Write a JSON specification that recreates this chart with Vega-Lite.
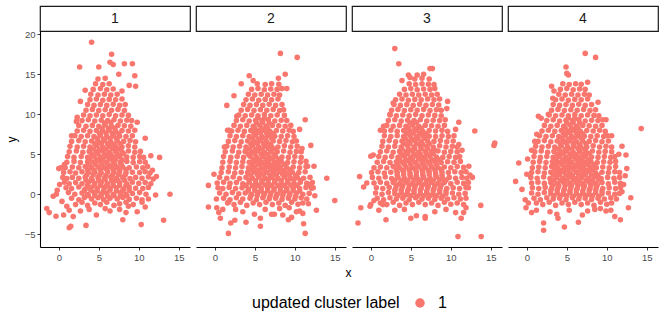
{"$schema":"https://vega.github.io/schema/vega-lite/v6.json","padding":5,"datasets":{"strips":[{"p":1},{"p":2},{"p":3},{"p":4}],"pts":[
{"p":1,"x":2.1,"y":-1.3},{"p":1,"x":2.9,"y":-1.0},{"p":1,"x":3.6,"y":-1.4},{"p":1,"x":4.5,"y":-1.1},{"p":1,"x":5.2,"y":-1.3},{"p":1,"x":6.0,"y":-1.0},{"p":1,"x":6.9,"y":-1.4},{"p":1,"x":7.6,"y":-1.2},{"p":1,"x":8.4,"y":-1.0},{"p":1,"x":9.3,"y":-1.3},
{"p":1,"x":1.6,"y":-0.5},{"p":1,"x":2.5,"y":-0.7},{"p":1,"x":3.2,"y":-0.4},{"p":1,"x":4.1,"y":-0.6},{"p":1,"x":4.9,"y":-0.45},{"p":1,"x":5.6,"y":-0.7},{"p":1,"x":6.4,"y":-0.5},{"p":1,"x":7.3,"y":-0.6},{"p":1,"x":8.0,"y":-0.4},{"p":1,"x":8.8,"y":-0.65},{"p":1,"x":9.7,"y":-0.5},{"p":1,"x":10.4,"y":-0.7},
{"p":1,"x":1.2,"y":0.2},{"p":1,"x":2.0,"y":0.0},{"p":1,"x":2.9,"y":0.15},{"p":1,"x":3.6,"y":-0.05},{"p":1,"x":4.4,"y":0.2},{"p":1,"x":5.3,"y":0.05},{"p":1,"x":6.0,"y":0.1},{"p":1,"x":6.8,"y":-0.05},{"p":1,"x":7.7,"y":0.2},{"p":1,"x":8.4,"y":0.0},{"p":1,"x":9.2,"y":0.1},{"p":1,"x":10.1,"y":0.2},{"p":1,"x":10.9,"y":0.0},
{"p":1,"x":0.9,"y":0.8},{"p":1,"x":1.6,"y":0.7},{"p":1,"x":2.5,"y":0.9},{"p":1,"x":3.3,"y":0.65},{"p":1,"x":4.0,"y":0.8},{"p":1,"x":4.8,"y":0.7},{"p":1,"x":5.7,"y":0.85},{"p":1,"x":6.4,"y":0.7},{"p":1,"x":7.2,"y":0.8},{"p":1,"x":8.1,"y":0.65},{"p":1,"x":8.8,"y":0.9},{"p":1,"x":9.6,"y":0.75},{"p":1,"x":10.5,"y":0.7},{"p":1,"x":11.2,"y":0.85},
{"p":1,"x":0.7,"y":1.5},{"p":1,"x":1.3,"y":1.3},{"p":1,"x":2.1,"y":1.45},{"p":1,"x":2.9,"y":1.3},{"p":1,"x":3.7,"y":1.5},{"p":1,"x":4.5,"y":1.35},{"p":1,"x":5.3,"y":1.45},{"p":1,"x":6.1,"y":1.3},{"p":1,"x":6.8,"y":1.5},{"p":1,"x":7.6,"y":1.4},{"p":1,"x":8.5,"y":1.3},{"p":1,"x":9.2,"y":1.5},{"p":1,"x":10.0,"y":1.35},{"p":1,"x":10.8,"y":1.45},{"p":1,"x":11.5,"y":1.3},
{"p":1,"x":0.5,"y":2.1},{"p":1,"x":1.0,"y":1.95},{"p":1,"x":1.7,"y":2.1},{"p":1,"x":2.5,"y":2.0},{"p":1,"x":3.3,"y":2.15},{"p":1,"x":4.1,"y":1.95},{"p":1,"x":4.9,"y":2.1},{"p":1,"x":5.7,"y":2.0},{"p":1,"x":6.5,"y":2.15},{"p":1,"x":7.2,"y":2.0},{"p":1,"x":8.0,"y":2.1},{"p":1,"x":8.9,"y":1.95},{"p":1,"x":9.6,"y":2.1},{"p":1,"x":10.4,"y":2.0},{"p":1,"x":11.2,"y":2.15},
{"p":1,"x":0.6,"y":2.7},{"p":1,"x":1.4,"y":2.8},{"p":1,"x":2.1,"y":2.65},{"p":1,"x":2.9,"y":2.8},{"p":1,"x":3.7,"y":2.7},{"p":1,"x":4.5,"y":2.75},{"p":1,"x":5.3,"y":2.65},{"p":1,"x":6.1,"y":2.8},{"p":1,"x":6.9,"y":2.7},{"p":1,"x":7.6,"y":2.8},{"p":1,"x":8.4,"y":2.65},{"p":1,"x":9.2,"y":2.75},{"p":1,"x":10.1,"y":2.7},{"p":1,"x":10.8,"y":2.8},{"p":1,"x":11.4,"y":2.65},
{"p":1,"x":0.8,"y":3.3},{"p":1,"x":1.7,"y":3.4},{"p":1,"x":2.5,"y":3.3},{"p":1,"x":3.3,"y":3.45},{"p":1,"x":4.1,"y":3.3},{"p":1,"x":4.9,"y":3.4},{"p":1,"x":5.7,"y":3.3},{"p":1,"x":6.5,"y":3.45},{"p":1,"x":7.3,"y":3.35},{"p":1,"x":8.0,"y":3.4},{"p":1,"x":8.8,"y":3.3},{"p":1,"x":9.7,"y":3.4},{"p":1,"x":10.5,"y":3.3},{"p":1,"x":11.1,"y":3.45},
{"p":1,"x":1.0,"y":4.0},{"p":1,"x":1.9,"y":4.1},{"p":1,"x":2.7,"y":3.95},{"p":1,"x":3.6,"y":4.05},{"p":1,"x":4.4,"y":4.0},{"p":1,"x":5.2,"y":4.1},{"p":1,"x":6.0,"y":3.95},{"p":1,"x":6.8,"y":4.05},{"p":1,"x":7.7,"y":4.0},{"p":1,"x":8.5,"y":4.1},{"p":1,"x":9.3,"y":3.95},{"p":1,"x":10.1,"y":4.05},{"p":1,"x":10.8,"y":4.0},
{"p":1,"x":1.1,"y":4.7},{"p":1,"x":1.9,"y":4.6},{"p":1,"x":2.8,"y":4.7},{"p":1,"x":3.6,"y":4.6},{"p":1,"x":4.4,"y":4.75},{"p":1,"x":5.2,"y":4.6},{"p":1,"x":6.0,"y":4.7},{"p":1,"x":6.8,"y":4.6},{"p":1,"x":7.6,"y":4.7},{"p":1,"x":8.5,"y":4.65},{"p":1,"x":9.3,"y":4.6},{"p":1,"x":10.1,"y":4.7},{"p":1,"x":10.6,"y":4.6},
{"p":1,"x":1.3,"y":5.3},{"p":1,"x":2.2,"y":5.4},{"p":1,"x":3.0,"y":5.25},{"p":1,"x":3.8,"y":5.35},{"p":1,"x":4.7,"y":5.3},{"p":1,"x":5.5,"y":5.4},{"p":1,"x":6.3,"y":5.25},{"p":1,"x":7.1,"y":5.35},{"p":1,"x":7.9,"y":5.3},{"p":1,"x":8.7,"y":5.4},{"p":1,"x":9.5,"y":5.25},{"p":1,"x":10.2,"y":5.35},
{"p":1,"x":1.4,"y":6.0},{"p":1,"x":2.3,"y":5.9},{"p":1,"x":3.1,"y":6.0},{"p":1,"x":3.9,"y":5.9},{"p":1,"x":4.7,"y":6.05},{"p":1,"x":5.5,"y":5.9},{"p":1,"x":6.3,"y":6.0},{"p":1,"x":7.1,"y":5.95},{"p":1,"x":7.9,"y":5.9},{"p":1,"x":8.7,"y":6.05},{"p":1,"x":9.5,"y":5.9},
{"p":1,"x":1.6,"y":6.6},{"p":1,"x":2.5,"y":6.7},{"p":1,"x":3.3,"y":6.55},{"p":1,"x":4.1,"y":6.65},{"p":1,"x":4.9,"y":6.6},{"p":1,"x":5.7,"y":6.7},{"p":1,"x":6.5,"y":6.55},{"p":1,"x":7.3,"y":6.65},{"p":1,"x":8.1,"y":6.6},{"p":1,"x":8.9,"y":6.7},{"p":1,"x":9.6,"y":6.55},
{"p":1,"x":2.0,"y":7.3},{"p":1,"x":2.8,"y":7.2},{"p":1,"x":3.6,"y":7.3},{"p":1,"x":4.4,"y":7.2},{"p":1,"x":5.2,"y":7.35},{"p":1,"x":6.0,"y":7.2},{"p":1,"x":6.8,"y":7.3},{"p":1,"x":7.6,"y":7.25},{"p":1,"x":8.4,"y":7.2},{"p":1,"x":9.2,"y":7.3},
{"p":1,"x":2.3,"y":7.9},{"p":1,"x":3.1,"y":8.0},{"p":1,"x":3.9,"y":7.85},{"p":1,"x":4.7,"y":7.95},{"p":1,"x":5.5,"y":7.9},{"p":1,"x":6.3,"y":8.0},{"p":1,"x":7.1,"y":7.85},{"p":1,"x":7.9,"y":7.95},{"p":1,"x":8.7,"y":7.9},{"p":1,"x":9.5,"y":8.0},
{"p":1,"x":2.5,"y":8.6},{"p":1,"x":3.4,"y":8.5},{"p":1,"x":4.2,"y":8.6},{"p":1,"x":5.0,"y":8.5},{"p":1,"x":5.8,"y":8.65},{"p":1,"x":6.6,"y":8.5},{"p":1,"x":7.4,"y":8.6},{"p":1,"x":8.2,"y":8.55},{"p":1,"x":9.0,"y":8.5},
{"p":1,"x":2.9,"y":9.2},{"p":1,"x":3.7,"y":9.3},{"p":1,"x":4.5,"y":9.15},{"p":1,"x":5.3,"y":9.25},{"p":1,"x":6.1,"y":9.2},{"p":1,"x":6.9,"y":9.3},{"p":1,"x":7.7,"y":9.15},{"p":1,"x":8.5,"y":9.25},{"p":1,"x":9.1,"y":9.2},
{"p":1,"x":3.1,"y":9.9},{"p":1,"x":3.9,"y":9.8},{"p":1,"x":4.7,"y":9.9},{"p":1,"x":5.5,"y":9.8},{"p":1,"x":6.3,"y":9.95},{"p":1,"x":7.1,"y":9.8},{"p":1,"x":7.9,"y":9.9},{"p":1,"x":8.7,"y":9.85},
{"p":1,"x":3.4,"y":10.5},{"p":1,"x":4.2,"y":10.6},{"p":1,"x":5.0,"y":10.45},{"p":1,"x":5.8,"y":10.55},{"p":1,"x":6.6,"y":10.5},{"p":1,"x":7.4,"y":10.6},{"p":1,"x":8.2,"y":10.45},
{"p":1,"x":3.6,"y":11.2},{"p":1,"x":4.4,"y":11.1},{"p":1,"x":5.2,"y":11.2},{"p":1,"x":6.0,"y":11.1},{"p":1,"x":6.8,"y":11.25},{"p":1,"x":7.6,"y":11.1},{"p":1,"x":8.3,"y":11.2},
{"p":1,"x":3.9,"y":11.8},{"p":1,"x":4.7,"y":11.9},{"p":1,"x":5.5,"y":11.75},{"p":1,"x":6.3,"y":11.85},{"p":1,"x":7.1,"y":11.8},{"p":1,"x":7.9,"y":11.9},
{"p":1,"x":4.0,"y":12.5},{"p":1,"x":4.9,"y":12.4},{"p":1,"x":5.7,"y":12.5},{"p":1,"x":6.5,"y":12.4},{"p":1,"x":7.3,"y":12.5},
{"p":1,"x":4.3,"y":13.1},{"p":1,"x":5.2,"y":13.2},{"p":1,"x":6.0,"y":13.05},{"p":1,"x":6.8,"y":13.15},
{"p":1,"x":4.6,"y":13.8},{"p":1,"x":5.5,"y":13.7},{"p":1,"x":6.3,"y":13.8},
{"p":1,"x":4.9,"y":14.4},{"p":1,"x":5.8,"y":14.5},
{"p":1,"x":3.7,"y":-0.2},{"p":1,"x":4.5,"y":-0.15},{"p":1,"x":5.3,"y":-0.2},{"p":1,"x":6.1,"y":-0.25},{"p":1,"x":6.9,"y":-0.2},{"p":1,"x":7.7,"y":-0.15},{"p":1,"x":8.5,"y":-0.2},
{"p":1,"x":3.2,"y":0.45},{"p":1,"x":4.0,"y":0.5},{"p":1,"x":4.8,"y":0.4},{"p":1,"x":5.6,"y":0.45},{"p":1,"x":6.4,"y":0.5},{"p":1,"x":7.2,"y":0.4},{"p":1,"x":8.0,"y":0.45},{"p":1,"x":8.8,"y":0.5},
{"p":1,"x":3.6,"y":1.1},{"p":1,"x":4.4,"y":1.05},{"p":1,"x":5.2,"y":1.1},{"p":1,"x":6.0,"y":1.15},{"p":1,"x":6.8,"y":1.1},{"p":1,"x":7.6,"y":1.05},{"p":1,"x":8.4,"y":1.1},
{"p":1,"x":3.4,"y":1.75},{"p":1,"x":4.2,"y":1.7},{"p":1,"x":5.0,"y":1.75},{"p":1,"x":5.8,"y":1.8},{"p":1,"x":6.6,"y":1.75},{"p":1,"x":7.4,"y":1.7},{"p":1,"x":8.2,"y":1.75},
{"p":1,"x":3.5,"y":2.4},{"p":1,"x":4.3,"y":2.45},{"p":1,"x":5.1,"y":2.4},{"p":1,"x":5.9,"y":2.35},{"p":1,"x":6.7,"y":2.4},{"p":1,"x":7.5,"y":2.45},{"p":1,"x":8.3,"y":2.4},
{"p":1,"x":3.6,"y":3.05},{"p":1,"x":4.4,"y":3.0},{"p":1,"x":5.2,"y":3.05},{"p":1,"x":6.0,"y":3.1},{"p":1,"x":6.8,"y":3.05},{"p":1,"x":7.6,"y":3.0},{"p":1,"x":8.4,"y":3.05},
{"p":1,"x":3.8,"y":3.7},{"p":1,"x":4.6,"y":3.75},{"p":1,"x":5.4,"y":3.7},{"p":1,"x":6.2,"y":3.65},{"p":1,"x":7.0,"y":3.7},{"p":1,"x":7.8,"y":3.75},
{"p":1,"x":3.9,"y":4.35},{"p":1,"x":4.7,"y":4.3},{"p":1,"x":5.5,"y":4.35},{"p":1,"x":6.3,"y":4.4},{"p":1,"x":7.1,"y":4.35},{"p":1,"x":7.9,"y":4.3},
{"p":1,"x":4.1,"y":5.0},{"p":1,"x":4.9,"y":5.05},{"p":1,"x":5.7,"y":5.0},{"p":1,"x":6.5,"y":4.95},{"p":1,"x":7.3,"y":5.0},{"p":1,"x":8.1,"y":5.05},
{"p":1,"x":4.3,"y":5.65},{"p":1,"x":5.1,"y":5.6},{"p":1,"x":5.9,"y":5.65},{"p":1,"x":6.7,"y":5.7},{"p":1,"x":7.5,"y":5.65},
{"p":1,"x":4.5,"y":6.3},{"p":1,"x":5.3,"y":6.35},{"p":1,"x":6.1,"y":6.3},{"p":1,"x":6.9,"y":6.25},{"p":1,"x":7.7,"y":6.3},
{"p":1,"x":4.8,"y":6.95},{"p":1,"x":5.6,"y":6.9},{"p":1,"x":6.4,"y":6.95},{"p":1,"x":7.2,"y":7.0},
{"p":1,"x":5.1,"y":7.6},{"p":1,"x":5.9,"y":7.65},{"p":1,"x":6.7,"y":7.6},{"p":1,"x":7.5,"y":7.55},
{"p":1,"x":5.4,"y":8.25},{"p":1,"x":6.2,"y":8.2},{"p":1,"x":7.0,"y":8.25},
{"p":1,"x":5.7,"y":8.9},{"p":1,"x":6.5,"y":8.95},
{"p":1,"x":4.1,"y":19.0},{"p":1,"x":6.6,"y":17.5},{"p":1,"x":6.4,"y":16.5},{"p":1,"x":6.8,"y":16.2},{"p":1,"x":8.2,"y":16.3},{"p":1,"x":9.2,"y":16.3},{"p":1,"x":2.6,"y":15.9},{"p":1,"x":5.0,"y":15.9},{"p":1,"x":9.5,"y":14.8},{"p":1,"x":7.5,"y":15.0},{"p":1,"x":8.8,"y":13.6},{"p":1,"x":9.6,"y":13.5},{"p":1,"x":7.9,"y":12.9},{"p":1,"x":3.3,"y":13.0},{"p":1,"x":2.7,"y":11.6},{"p":1,"x":2.3,"y":9.6},{"p":1,"x":2.2,"y":9.1},{"p":1,"x":9.8,"y":9.0},{"p":1,"x":10.8,"y":7.0},{"p":1,"x":12.6,"y":4.6},{"p":1,"x":11.5,"y":4.8},{"p":1,"x":13.9,"y":0.0},{"p":1,"x":13.1,"y":-3.25},{"p":1,"x":10.3,"y":-3.8},{"p":1,"x":8.0,"y":-3.2},{"p":1,"x":3.4,"y":-3.9},{"p":1,"x":1.3,"y":-4.2},{"p":1,"x":1.5,"y":-4.0},{"p":1,"x":4.7,"y":-2.6},{"p":1,"x":6.4,"y":-2.1},{"p":1,"x":-0.35,"y":-2.75},{"p":1,"x":-1.5,"y":-1.8},{"p":1,"x":-1.2,"y":-2.3},{"p":1,"x":0.6,"y":-2.6},{"p":1,"x":1.8,"y":-2.8},{"p":1,"x":-0.7,"y":-0.25},{"p":1,"x":-0.2,"y":0.5},{"p":1,"x":0.1,"y":1.2},{"p":1,"x":0.25,"y":3.3},{"p":1,"x":0.7,"y":3.7},{"p":1,"x":0.0,"y":3.2},{"p":1,"x":1.6,"y":7.3},{"p":1,"x":12.1,"y":-0.1},{"p":1,"x":11.8,"y":1.9},{"p":1,"x":11.7,"y":3.0},{"p":1,"x":12.2,"y":2.2},{"p":1,"x":8.4,"y":-2.3},{"p":1,"x":8.7,"y":-1.5},{"p":1,"x":7.6,"y":-1.9},{"p":1,"x":1.0,"y":-1.5},{"p":1,"x":1.3,"y":-2.0},{"p":1,"x":0.4,"y":-0.9},{"p":1,"x":-0.3,"y":0.0},{"p":1,"x":10.8,"y":-1.6},{"p":1,"x":9.8,"y":-2.2},{"p":1,"x":10.4,"y":-1.0},{"p":1,"x":11.2,"y":-0.6},{"p":1,"x":5.8,"y":-1.8},{"p":1,"x":3.8,"y":-1.9},{"p":1,"x":2.7,"y":-2.1},
{"p":2,"x":1.6,"y":-1.1},{"p":2,"x":2.4,"y":-1.3},{"p":2,"x":3.2,"y":-1.0},{"p":2,"x":4.0,"y":-1.4},{"p":2,"x":4.8,"y":-1.1},{"p":2,"x":5.6,"y":-1.3},{"p":2,"x":6.4,"y":-1.0},{"p":2,"x":7.2,"y":-1.3},{"p":2,"x":8.0,"y":-1.1},{"p":2,"x":8.8,"y":-1.4},{"p":2,"x":9.6,"y":-1.0},{"p":2,"x":10.4,"y":-1.25},{"p":2,"x":11.0,"y":-1.1},
{"p":2,"x":1.1,"y":-0.5},{"p":2,"x":1.9,"y":-0.7},{"p":2,"x":2.7,"y":-0.45},{"p":2,"x":3.5,"y":-0.6},{"p":2,"x":4.4,"y":-0.5},{"p":2,"x":5.2,"y":-0.7},{"p":2,"x":6.0,"y":-0.45},{"p":2,"x":6.8,"y":-0.6},{"p":2,"x":7.6,"y":-0.5},{"p":2,"x":8.4,"y":-0.65},{"p":2,"x":9.2,"y":-0.5},{"p":2,"x":10.0,"y":-0.6},{"p":2,"x":10.8,"y":-0.45},{"p":2,"x":11.5,"y":-0.6},
{"p":2,"x":0.6,"y":0.15},{"p":2,"x":1.4,"y":0.0},{"p":2,"x":2.2,"y":0.2},{"p":2,"x":3.0,"y":0.05},{"p":2,"x":3.8,"y":0.15},{"p":2,"x":4.6,"y":0.0},{"p":2,"x":5.4,"y":0.2},{"p":2,"x":6.2,"y":0.05},{"p":2,"x":7.0,"y":0.1},{"p":2,"x":7.8,"y":0.0},{"p":2,"x":8.6,"y":0.2},{"p":2,"x":9.4,"y":0.05},{"p":2,"x":10.2,"y":0.15},{"p":2,"x":11.0,"y":0.0},{"p":2,"x":11.8,"y":0.1},
{"p":2,"x":0.4,"y":0.8},{"p":2,"x":1.0,"y":0.7},{"p":2,"x":1.8,"y":0.85},{"p":2,"x":2.6,"y":0.7},{"p":2,"x":3.4,"y":0.8},{"p":2,"x":4.2,"y":0.65},{"p":2,"x":5.0,"y":0.85},{"p":2,"x":5.8,"y":0.7},{"p":2,"x":6.6,"y":0.8},{"p":2,"x":7.4,"y":0.7},{"p":2,"x":8.2,"y":0.85},{"p":2,"x":9.0,"y":0.7},{"p":2,"x":9.8,"y":0.8},{"p":2,"x":10.6,"y":0.7},{"p":2,"x":11.4,"y":0.85},{"p":2,"x":12.1,"y":0.75},
{"p":2,"x":0.3,"y":1.4},{"p":2,"x":1.1,"y":1.5},{"p":2,"x":1.9,"y":1.35},{"p":2,"x":2.7,"y":1.45},{"p":2,"x":3.5,"y":1.3},{"p":2,"x":4.3,"y":1.5},{"p":2,"x":5.1,"y":1.35},{"p":2,"x":5.9,"y":1.45},{"p":2,"x":6.7,"y":1.3},{"p":2,"x":7.5,"y":1.5},{"p":2,"x":8.3,"y":1.35},{"p":2,"x":9.1,"y":1.45},{"p":2,"x":9.9,"y":1.3},{"p":2,"x":10.7,"y":1.5},{"p":2,"x":11.5,"y":1.35},{"p":2,"x":12.2,"y":1.45},
{"p":2,"x":0.6,"y":2.1},{"p":2,"x":1.5,"y":2.0},{"p":2,"x":2.3,"y":2.15},{"p":2,"x":3.1,"y":1.95},{"p":2,"x":3.9,"y":2.1},{"p":2,"x":4.7,"y":2.0},{"p":2,"x":5.5,"y":2.15},{"p":2,"x":6.3,"y":1.95},{"p":2,"x":7.1,"y":2.1},{"p":2,"x":7.9,"y":2.0},{"p":2,"x":8.7,"y":2.15},{"p":2,"x":9.5,"y":1.95},{"p":2,"x":10.3,"y":2.1},{"p":2,"x":11.1,"y":2.0},{"p":2,"x":11.9,"y":2.1},
{"p":2,"x":0.8,"y":2.7},{"p":2,"x":1.7,"y":2.8},{"p":2,"x":2.5,"y":2.65},{"p":2,"x":3.3,"y":2.75},{"p":2,"x":4.1,"y":2.7},{"p":2,"x":4.9,"y":2.8},{"p":2,"x":5.7,"y":2.65},{"p":2,"x":6.5,"y":2.75},{"p":2,"x":7.3,"y":2.7},{"p":2,"x":8.1,"y":2.8},{"p":2,"x":8.9,"y":2.65},{"p":2,"x":9.7,"y":2.75},{"p":2,"x":10.5,"y":2.7},{"p":2,"x":11.3,"y":2.8},
{"p":2,"x":0.9,"y":3.3},{"p":2,"x":1.8,"y":3.4},{"p":2,"x":2.6,"y":3.3},{"p":2,"x":3.4,"y":3.45},{"p":2,"x":4.2,"y":3.3},{"p":2,"x":5.0,"y":3.4},{"p":2,"x":5.8,"y":3.3},{"p":2,"x":6.6,"y":3.45},{"p":2,"x":7.4,"y":3.35},{"p":2,"x":8.2,"y":3.4},{"p":2,"x":9.0,"y":3.3},{"p":2,"x":9.8,"y":3.4},{"p":2,"x":10.6,"y":3.3},{"p":2,"x":11.4,"y":3.45},
{"p":2,"x":1.0,"y":4.0},{"p":2,"x":1.9,"y":4.1},{"p":2,"x":2.7,"y":3.95},{"p":2,"x":3.5,"y":4.05},{"p":2,"x":4.3,"y":4.0},{"p":2,"x":5.1,"y":4.1},{"p":2,"x":5.9,"y":3.95},{"p":2,"x":6.7,"y":4.05},{"p":2,"x":7.5,"y":4.0},{"p":2,"x":8.3,"y":4.1},{"p":2,"x":9.1,"y":3.95},{"p":2,"x":9.9,"y":4.05},{"p":2,"x":10.7,"y":4.0},{"p":2,"x":11.4,"y":4.1},
{"p":2,"x":1.1,"y":4.7},{"p":2,"x":2.0,"y":4.6},{"p":2,"x":2.8,"y":4.7},{"p":2,"x":3.6,"y":4.6},{"p":2,"x":4.4,"y":4.75},{"p":2,"x":5.2,"y":4.6},{"p":2,"x":6.0,"y":4.7},{"p":2,"x":6.8,"y":4.6},{"p":2,"x":7.6,"y":4.7},{"p":2,"x":8.4,"y":4.65},{"p":2,"x":9.2,"y":4.6},{"p":2,"x":10.0,"y":4.7},{"p":2,"x":10.8,"y":4.6},
{"p":2,"x":1.3,"y":5.3},{"p":2,"x":2.2,"y":5.4},{"p":2,"x":3.0,"y":5.25},{"p":2,"x":3.8,"y":5.35},{"p":2,"x":4.6,"y":5.3},{"p":2,"x":5.4,"y":5.4},{"p":2,"x":6.2,"y":5.25},{"p":2,"x":7.0,"y":5.35},{"p":2,"x":7.8,"y":5.3},{"p":2,"x":8.6,"y":5.4},{"p":2,"x":9.4,"y":5.25},{"p":2,"x":10.2,"y":5.35},{"p":2,"x":10.8,"y":5.3},
{"p":2,"x":1.5,"y":6.0},{"p":2,"x":2.3,"y":5.9},{"p":2,"x":3.1,"y":6.0},{"p":2,"x":3.9,"y":5.9},{"p":2,"x":4.7,"y":6.05},{"p":2,"x":5.5,"y":5.9},{"p":2,"x":6.3,"y":6.0},{"p":2,"x":7.1,"y":5.95},{"p":2,"x":7.9,"y":5.9},{"p":2,"x":8.7,"y":6.05},{"p":2,"x":9.5,"y":5.9},{"p":2,"x":10.3,"y":6.0},
{"p":2,"x":1.7,"y":6.6},{"p":2,"x":2.5,"y":6.7},{"p":2,"x":3.3,"y":6.55},{"p":2,"x":4.1,"y":6.65},{"p":2,"x":4.9,"y":6.6},{"p":2,"x":5.7,"y":6.7},{"p":2,"x":6.5,"y":6.55},{"p":2,"x":7.3,"y":6.65},{"p":2,"x":8.1,"y":6.6},{"p":2,"x":8.9,"y":6.7},{"p":2,"x":9.7,"y":6.55},{"p":2,"x":10.2,"y":6.65},
{"p":2,"x":1.9,"y":7.3},{"p":2,"x":2.7,"y":7.2},{"p":2,"x":3.5,"y":7.3},{"p":2,"x":4.3,"y":7.2},{"p":2,"x":5.1,"y":7.35},{"p":2,"x":5.9,"y":7.2},{"p":2,"x":6.7,"y":7.3},{"p":2,"x":7.5,"y":7.25},{"p":2,"x":8.3,"y":7.2},{"p":2,"x":9.1,"y":7.3},{"p":2,"x":9.9,"y":7.2},
{"p":2,"x":2.1,"y":7.9},{"p":2,"x":2.9,"y":8.0},{"p":2,"x":3.7,"y":7.85},{"p":2,"x":4.5,"y":7.95},{"p":2,"x":5.3,"y":7.9},{"p":2,"x":6.1,"y":8.0},{"p":2,"x":6.9,"y":7.85},{"p":2,"x":7.7,"y":7.95},{"p":2,"x":8.5,"y":7.9},{"p":2,"x":9.3,"y":8.0},{"p":2,"x":9.8,"y":7.85},
{"p":2,"x":2.4,"y":8.6},{"p":2,"x":3.2,"y":8.5},{"p":2,"x":4.0,"y":8.6},{"p":2,"x":4.8,"y":8.5},{"p":2,"x":5.6,"y":8.65},{"p":2,"x":6.4,"y":8.5},{"p":2,"x":7.2,"y":8.6},{"p":2,"x":8.0,"y":8.55},{"p":2,"x":8.8,"y":8.5},{"p":2,"x":9.5,"y":8.6},
{"p":2,"x":2.7,"y":9.2},{"p":2,"x":3.5,"y":9.3},{"p":2,"x":4.3,"y":9.15},{"p":2,"x":5.1,"y":9.25},{"p":2,"x":5.9,"y":9.2},{"p":2,"x":6.7,"y":9.3},{"p":2,"x":7.5,"y":9.15},{"p":2,"x":8.3,"y":9.25},{"p":2,"x":9.0,"y":9.2},
{"p":2,"x":3.0,"y":9.9},{"p":2,"x":3.8,"y":9.8},{"p":2,"x":4.6,"y":9.9},{"p":2,"x":5.4,"y":9.8},{"p":2,"x":6.2,"y":9.95},{"p":2,"x":7.0,"y":9.8},{"p":2,"x":7.8,"y":9.9},{"p":2,"x":8.7,"y":9.85},
{"p":2,"x":3.3,"y":10.5},{"p":2,"x":4.1,"y":10.6},{"p":2,"x":4.9,"y":10.45},{"p":2,"x":5.7,"y":10.55},{"p":2,"x":6.5,"y":10.5},{"p":2,"x":7.3,"y":10.6},{"p":2,"x":8.1,"y":10.45},{"p":2,"x":8.6,"y":10.55},
{"p":2,"x":3.6,"y":11.2},{"p":2,"x":4.4,"y":11.1},{"p":2,"x":5.2,"y":11.2},{"p":2,"x":6.0,"y":11.1},{"p":2,"x":6.8,"y":11.25},{"p":2,"x":7.6,"y":11.1},{"p":2,"x":8.4,"y":11.2},
{"p":2,"x":3.9,"y":11.8},{"p":2,"x":4.7,"y":11.9},{"p":2,"x":5.5,"y":11.75},{"p":2,"x":6.3,"y":11.85},{"p":2,"x":7.1,"y":11.8},{"p":2,"x":7.9,"y":11.9},
{"p":2,"x":4.2,"y":12.5},{"p":2,"x":5.0,"y":12.4},{"p":2,"x":5.8,"y":12.5},{"p":2,"x":6.6,"y":12.4},{"p":2,"x":7.4,"y":12.5},{"p":2,"x":8.1,"y":12.4},
{"p":2,"x":4.6,"y":13.1},{"p":2,"x":5.4,"y":13.2},{"p":2,"x":6.2,"y":13.05},{"p":2,"x":7.0,"y":13.15},{"p":2,"x":7.8,"y":13.1},{"p":2,"x":8.4,"y":13.2},
{"p":2,"x":5.3,"y":13.8},{"p":2,"x":6.3,"y":13.7},{"p":2,"x":7.1,"y":13.8},{"p":2,"x":8.0,"y":13.75},
{"p":2,"x":4.5,"y":-0.2},{"p":2,"x":5.3,"y":-0.15},{"p":2,"x":6.1,"y":-0.2},{"p":2,"x":6.9,"y":-0.25},{"p":2,"x":7.7,"y":-0.2},{"p":2,"x":8.5,"y":-0.15},{"p":2,"x":9.3,"y":-0.2},{"p":2,"x":10.1,"y":-0.25},
{"p":2,"x":4.2,"y":0.45},{"p":2,"x":5.0,"y":0.5},{"p":2,"x":5.8,"y":0.4},{"p":2,"x":6.6,"y":0.45},{"p":2,"x":7.4,"y":0.5},{"p":2,"x":8.2,"y":0.4},{"p":2,"x":9.0,"y":0.45},{"p":2,"x":9.8,"y":0.5},{"p":2,"x":10.6,"y":0.4},
{"p":2,"x":3.9,"y":1.1},{"p":2,"x":4.7,"y":1.05},{"p":2,"x":5.5,"y":1.1},{"p":2,"x":6.3,"y":1.15},{"p":2,"x":7.1,"y":1.1},{"p":2,"x":7.9,"y":1.05},{"p":2,"x":8.7,"y":1.1},{"p":2,"x":9.5,"y":1.15},{"p":2,"x":10.3,"y":1.1},
{"p":2,"x":4.3,"y":1.75},{"p":2,"x":5.1,"y":1.7},{"p":2,"x":5.9,"y":1.75},{"p":2,"x":6.7,"y":1.8},{"p":2,"x":7.5,"y":1.75},{"p":2,"x":8.3,"y":1.7},{"p":2,"x":9.1,"y":1.75},{"p":2,"x":9.9,"y":1.8},{"p":2,"x":10.7,"y":1.75},
{"p":2,"x":4.5,"y":2.4},{"p":2,"x":5.3,"y":2.45},{"p":2,"x":6.1,"y":2.4},{"p":2,"x":6.9,"y":2.35},{"p":2,"x":7.7,"y":2.4},{"p":2,"x":8.5,"y":2.45},{"p":2,"x":9.3,"y":2.4},{"p":2,"x":10.1,"y":2.35},
{"p":2,"x":4.6,"y":3.05},{"p":2,"x":5.4,"y":3.0},{"p":2,"x":6.2,"y":3.05},{"p":2,"x":7.0,"y":3.1},{"p":2,"x":7.8,"y":3.05},{"p":2,"x":8.6,"y":3.0},{"p":2,"x":9.4,"y":3.05},
{"p":2,"x":4.7,"y":3.7},{"p":2,"x":5.5,"y":3.75},{"p":2,"x":6.3,"y":3.7},{"p":2,"x":7.1,"y":3.65},{"p":2,"x":7.9,"y":3.7},{"p":2,"x":8.7,"y":3.75},
{"p":2,"x":4.8,"y":4.35},{"p":2,"x":5.6,"y":4.3},{"p":2,"x":6.4,"y":4.35},{"p":2,"x":7.2,"y":4.4},{"p":2,"x":8.0,"y":4.35},
{"p":2,"x":4.2,"y":5.0},{"p":2,"x":5.0,"y":5.05},{"p":2,"x":5.8,"y":5.0},{"p":2,"x":6.6,"y":4.95},{"p":2,"x":7.4,"y":5.0},
{"p":2,"x":4.3,"y":5.65},{"p":2,"x":5.1,"y":5.6},{"p":2,"x":5.9,"y":5.65},{"p":2,"x":6.7,"y":5.7},{"p":2,"x":7.5,"y":5.65},
{"p":2,"x":4.5,"y":6.3},{"p":2,"x":5.3,"y":6.35},{"p":2,"x":6.1,"y":6.3},{"p":2,"x":6.9,"y":6.25},
{"p":2,"x":4.7,"y":6.95},{"p":2,"x":5.5,"y":6.9},{"p":2,"x":6.3,"y":6.95},{"p":2,"x":7.1,"y":7.0},
{"p":2,"x":4.9,"y":7.6},{"p":2,"x":5.7,"y":7.65},{"p":2,"x":6.5,"y":7.6},{"p":2,"x":7.3,"y":7.55},
{"p":2,"x":5.0,"y":8.25},{"p":2,"x":5.8,"y":8.2},{"p":2,"x":6.6,"y":8.25},
{"p":2,"x":5.2,"y":8.9},{"p":2,"x":6.0,"y":8.95},{"p":2,"x":6.8,"y":8.9},
{"p":2,"x":5.4,"y":9.55},{"p":2,"x":6.2,"y":9.5},
{"p":2,"x":8.2,"y":17.6},{"p":2,"x":10.3,"y":17.1},{"p":2,"x":4.3,"y":14.8},{"p":2,"x":4.8,"y":14.2},{"p":2,"x":3.3,"y":13.8},{"p":2,"x":8.8,"y":15.0},{"p":2,"x":7.95,"y":14.5},{"p":2,"x":9.0,"y":13.2},{"p":2,"x":2.4,"y":12.3},{"p":2,"x":1.5,"y":11.1},{"p":2,"x":10.6,"y":8.1},{"p":2,"x":12.0,"y":6.1},{"p":2,"x":12.4,"y":3.5},{"p":2,"x":14.0,"y":2.0},{"p":2,"x":15.0,"y":-0.8},{"p":2,"x":12.7,"y":-2.0},{"p":2,"x":11.3,"y":-4.9},{"p":2,"x":11.1,"y":-3.7},{"p":2,"x":1.7,"y":-4.9},{"p":2,"x":2.0,"y":-3.6},{"p":2,"x":2.5,"y":-3.25},{"p":2,"x":3.9,"y":-3.5},{"p":2,"x":5.7,"y":-4.0},{"p":2,"x":5.7,"y":-3.0},{"p":2,"x":4.95,"y":-2.5},{"p":2,"x":7.1,"y":-2.5},{"p":2,"x":7.45,"y":-2.5},{"p":2,"x":-0.8,"y":1.1},{"p":2,"x":-0.8,"y":-1.6},{"p":2,"x":-0.1,"y":2.5},{"p":2,"x":0.25,"y":-1.7},{"p":2,"x":0.5,"y":-2.3},{"p":2,"x":0.7,"y":-3.0},{"p":2,"x":1.7,"y":-1.0},{"p":2,"x":8.5,"y":-2.6},{"p":2,"x":9.2,"y":-3.2},{"p":2,"x":9.6,"y":-2.9},{"p":2,"x":10.2,"y":-2.2},{"p":2,"x":10.6,"y":-2.1},{"p":2,"x":11.0,"y":-2.4},{"p":2,"x":1.2,"y":5.9},{"p":2,"x":1.6,"y":8.0},{"p":2,"x":1.8,"y":8.0},{"p":2,"x":2.75,"y":9.75},{"p":2,"x":11.6,"y":3.5},{"p":2,"x":11.9,"y":1.2},{"p":2,"x":12.3,"y":0.8},{"p":2,"x":0.2,"y":-0.6},{"p":2,"x":1.0,"y":-1.9},{"p":2,"x":2.6,"y":-1.9},{"p":2,"x":3.5,"y":-2.2},{"p":2,"x":6.3,"y":-1.9},{"p":2,"x":8.1,"y":-1.8},{"p":2,"x":9.3,"y":-1.7},{"p":2,"x":11.7,"y":-1.2},{"p":2,"x":12.5,"y":-0.2},{"p":2,"x":11.3,"y":9.3},{"p":2,"x":10.9,"y":5.7},
{"p":3,"x":1.2,"y":-1.1},{"p":3,"x":2.0,"y":-1.3},{"p":3,"x":2.8,"y":-1.0},{"p":3,"x":3.6,"y":-1.4},{"p":3,"x":4.4,"y":-1.1},{"p":3,"x":5.2,"y":-1.3},{"p":3,"x":6.0,"y":-1.0},{"p":3,"x":6.8,"y":-1.3},{"p":3,"x":7.6,"y":-1.1},{"p":3,"x":8.4,"y":-1.4},{"p":3,"x":9.2,"y":-1.0},{"p":3,"x":10.0,"y":-1.25},{"p":3,"x":10.8,"y":-1.1},{"p":3,"x":11.6,"y":-1.3},
{"p":3,"x":0.8,"y":-0.5},{"p":3,"x":1.6,"y":-0.7},{"p":3,"x":2.4,"y":-0.45},{"p":3,"x":3.2,"y":-0.6},{"p":3,"x":4.0,"y":-0.5},{"p":3,"x":4.8,"y":-0.7},{"p":3,"x":5.6,"y":-0.45},{"p":3,"x":6.4,"y":-0.6},{"p":3,"x":7.2,"y":-0.5},{"p":3,"x":8.0,"y":-0.65},{"p":3,"x":8.8,"y":-0.5},{"p":3,"x":9.6,"y":-0.6},{"p":3,"x":10.4,"y":-0.45},{"p":3,"x":11.2,"y":-0.6},{"p":3,"x":11.9,"y":-0.5},
{"p":3,"x":0.6,"y":0.15},{"p":3,"x":1.4,"y":0.0},{"p":3,"x":2.2,"y":0.2},{"p":3,"x":3.0,"y":0.05},{"p":3,"x":3.8,"y":0.15},{"p":3,"x":4.6,"y":0.0},{"p":3,"x":5.4,"y":0.2},{"p":3,"x":6.2,"y":0.05},{"p":3,"x":7.0,"y":0.1},{"p":3,"x":7.8,"y":0.0},{"p":3,"x":8.6,"y":0.2},{"p":3,"x":9.4,"y":0.05},{"p":3,"x":10.2,"y":0.15},{"p":3,"x":11.0,"y":0.0},{"p":3,"x":11.8,"y":0.1},
{"p":3,"x":0.7,"y":0.8},{"p":3,"x":1.5,"y":0.7},{"p":3,"x":2.3,"y":0.85},{"p":3,"x":3.1,"y":0.7},{"p":3,"x":3.9,"y":0.8},{"p":3,"x":4.7,"y":0.65},{"p":3,"x":5.5,"y":0.85},{"p":3,"x":6.3,"y":0.7},{"p":3,"x":7.1,"y":0.8},{"p":3,"x":7.9,"y":0.7},{"p":3,"x":8.7,"y":0.85},{"p":3,"x":9.5,"y":0.7},{"p":3,"x":10.3,"y":0.8},{"p":3,"x":11.1,"y":0.7},{"p":3,"x":11.9,"y":0.85},
{"p":3,"x":0.4,"y":1.4},{"p":3,"x":1.2,"y":1.5},{"p":3,"x":2.0,"y":1.35},{"p":3,"x":2.8,"y":1.45},{"p":3,"x":3.6,"y":1.3},{"p":3,"x":4.4,"y":1.5},{"p":3,"x":5.2,"y":1.35},{"p":3,"x":6.0,"y":1.45},{"p":3,"x":6.8,"y":1.3},{"p":3,"x":7.6,"y":1.5},{"p":3,"x":8.4,"y":1.35},{"p":3,"x":9.2,"y":1.45},{"p":3,"x":10.0,"y":1.3},{"p":3,"x":10.8,"y":1.5},{"p":3,"x":11.6,"y":1.35},{"p":3,"x":12.2,"y":1.45},
{"p":3,"x":0.2,"y":2.1},{"p":3,"x":1.0,"y":2.0},{"p":3,"x":1.8,"y":2.15},{"p":3,"x":2.6,"y":1.95},{"p":3,"x":3.4,"y":2.1},{"p":3,"x":4.2,"y":2.0},{"p":3,"x":5.0,"y":2.15},{"p":3,"x":5.8,"y":1.95},{"p":3,"x":6.6,"y":2.1},{"p":3,"x":7.4,"y":2.0},{"p":3,"x":8.2,"y":2.15},{"p":3,"x":9.0,"y":1.95},{"p":3,"x":9.8,"y":2.1},{"p":3,"x":10.6,"y":2.0},{"p":3,"x":11.4,"y":2.1},{"p":3,"x":12.0,"y":2.0},
{"p":3,"x":0.1,"y":2.7},{"p":3,"x":0.9,"y":2.8},{"p":3,"x":1.7,"y":2.65},{"p":3,"x":2.5,"y":2.75},{"p":3,"x":3.3,"y":2.7},{"p":3,"x":4.1,"y":2.8},{"p":3,"x":4.9,"y":2.65},{"p":3,"x":5.7,"y":2.75},{"p":3,"x":6.5,"y":2.7},{"p":3,"x":7.3,"y":2.8},{"p":3,"x":8.1,"y":2.65},{"p":3,"x":8.9,"y":2.75},{"p":3,"x":9.7,"y":2.7},{"p":3,"x":10.5,"y":2.8},{"p":3,"x":11.3,"y":2.7},{"p":3,"x":11.9,"y":2.8},
{"p":3,"x":0.4,"y":3.3},{"p":3,"x":1.2,"y":3.4},{"p":3,"x":2.0,"y":3.3},{"p":3,"x":2.8,"y":3.45},{"p":3,"x":3.6,"y":3.3},{"p":3,"x":4.4,"y":3.4},{"p":3,"x":5.2,"y":3.3},{"p":3,"x":6.0,"y":3.45},{"p":3,"x":6.8,"y":3.35},{"p":3,"x":7.6,"y":3.4},{"p":3,"x":8.4,"y":3.3},{"p":3,"x":9.2,"y":3.4},{"p":3,"x":10.0,"y":3.3},{"p":3,"x":10.8,"y":3.45},{"p":3,"x":11.6,"y":3.35},
{"p":3,"x":0.8,"y":4.0},{"p":3,"x":1.6,"y":4.1},{"p":3,"x":2.4,"y":3.95},{"p":3,"x":3.2,"y":4.05},{"p":3,"x":4.0,"y":4.0},{"p":3,"x":4.8,"y":4.1},{"p":3,"x":5.6,"y":3.95},{"p":3,"x":6.4,"y":4.05},{"p":3,"x":7.2,"y":4.0},{"p":3,"x":8.0,"y":4.1},{"p":3,"x":8.8,"y":3.95},{"p":3,"x":9.6,"y":4.05},{"p":3,"x":10.4,"y":4.0},{"p":3,"x":11.2,"y":4.1},
{"p":3,"x":1.0,"y":4.7},{"p":3,"x":1.8,"y":4.6},{"p":3,"x":2.6,"y":4.7},{"p":3,"x":3.4,"y":4.6},{"p":3,"x":4.2,"y":4.75},{"p":3,"x":5.0,"y":4.6},{"p":3,"x":5.8,"y":4.7},{"p":3,"x":6.6,"y":4.6},{"p":3,"x":7.4,"y":4.7},{"p":3,"x":8.2,"y":4.65},{"p":3,"x":9.0,"y":4.6},{"p":3,"x":9.8,"y":4.7},{"p":3,"x":10.6,"y":4.6},{"p":3,"x":11.1,"y":4.7},
{"p":3,"x":1.2,"y":5.3},{"p":3,"x":2.0,"y":5.4},{"p":3,"x":2.8,"y":5.25},{"p":3,"x":3.6,"y":5.35},{"p":3,"x":4.4,"y":5.3},{"p":3,"x":5.2,"y":5.4},{"p":3,"x":6.0,"y":5.25},{"p":3,"x":6.8,"y":5.35},{"p":3,"x":7.6,"y":5.3},{"p":3,"x":8.4,"y":5.4},{"p":3,"x":9.2,"y":5.25},{"p":3,"x":10.0,"y":5.35},{"p":3,"x":10.8,"y":5.3},
{"p":3,"x":1.4,"y":6.0},{"p":3,"x":2.2,"y":5.9},{"p":3,"x":3.0,"y":6.0},{"p":3,"x":3.8,"y":5.9},{"p":3,"x":4.6,"y":6.05},{"p":3,"x":5.4,"y":5.9},{"p":3,"x":6.2,"y":6.0},{"p":3,"x":7.0,"y":5.95},{"p":3,"x":7.8,"y":5.9},{"p":3,"x":8.6,"y":6.05},{"p":3,"x":9.4,"y":5.9},{"p":3,"x":10.2,"y":6.0},{"p":3,"x":10.8,"y":5.9},
{"p":3,"x":1.5,"y":6.6},{"p":3,"x":2.3,"y":6.7},{"p":3,"x":3.1,"y":6.55},{"p":3,"x":3.9,"y":6.65},{"p":3,"x":4.7,"y":6.6},{"p":3,"x":5.5,"y":6.7},{"p":3,"x":6.3,"y":6.55},{"p":3,"x":7.1,"y":6.65},{"p":3,"x":7.9,"y":6.6},{"p":3,"x":8.7,"y":6.7},{"p":3,"x":9.5,"y":6.55},{"p":3,"x":10.3,"y":6.65},
{"p":3,"x":1.7,"y":7.3},{"p":3,"x":2.5,"y":7.2},{"p":3,"x":3.3,"y":7.3},{"p":3,"x":4.1,"y":7.2},{"p":3,"x":4.9,"y":7.35},{"p":3,"x":5.7,"y":7.2},{"p":3,"x":6.5,"y":7.3},{"p":3,"x":7.3,"y":7.25},{"p":3,"x":8.1,"y":7.2},{"p":3,"x":8.9,"y":7.3},{"p":3,"x":9.7,"y":7.2},{"p":3,"x":10.4,"y":7.3},
{"p":3,"x":1.7,"y":7.9},{"p":3,"x":2.5,"y":8.0},{"p":3,"x":3.3,"y":7.85},{"p":3,"x":4.1,"y":7.95},{"p":3,"x":4.9,"y":7.9},{"p":3,"x":5.7,"y":8.0},{"p":3,"x":6.5,"y":7.85},{"p":3,"x":7.3,"y":7.95},{"p":3,"x":8.1,"y":7.9},{"p":3,"x":8.9,"y":8.0},{"p":3,"x":9.6,"y":7.85},
{"p":3,"x":2.0,"y":8.6},{"p":3,"x":2.8,"y":8.5},{"p":3,"x":3.6,"y":8.6},{"p":3,"x":4.4,"y":8.5},{"p":3,"x":5.2,"y":8.65},{"p":3,"x":6.0,"y":8.5},{"p":3,"x":6.8,"y":8.6},{"p":3,"x":7.6,"y":8.55},{"p":3,"x":8.4,"y":8.5},{"p":3,"x":9.2,"y":8.6},
{"p":3,"x":2.2,"y":9.2},{"p":3,"x":3.0,"y":9.3},{"p":3,"x":3.8,"y":9.15},{"p":3,"x":4.6,"y":9.25},{"p":3,"x":5.4,"y":9.2},{"p":3,"x":6.2,"y":9.3},{"p":3,"x":7.0,"y":9.15},{"p":3,"x":7.8,"y":9.25},{"p":3,"x":8.6,"y":9.2},{"p":3,"x":9.3,"y":9.3},
{"p":3,"x":2.4,"y":9.9},{"p":3,"x":3.2,"y":9.8},{"p":3,"x":4.0,"y":9.9},{"p":3,"x":4.8,"y":9.8},{"p":3,"x":5.6,"y":9.95},{"p":3,"x":6.4,"y":9.8},{"p":3,"x":7.2,"y":9.9},{"p":3,"x":8.0,"y":9.85},{"p":3,"x":8.8,"y":9.8},
{"p":3,"x":2.6,"y":10.5},{"p":3,"x":3.4,"y":10.6},{"p":3,"x":4.2,"y":10.45},{"p":3,"x":5.0,"y":10.55},{"p":3,"x":5.8,"y":10.5},{"p":3,"x":6.6,"y":10.6},{"p":3,"x":7.4,"y":10.45},{"p":3,"x":8.2,"y":10.55},{"p":3,"x":8.8,"y":10.5},
{"p":3,"x":2.9,"y":11.2},{"p":3,"x":3.7,"y":11.1},{"p":3,"x":4.5,"y":11.2},{"p":3,"x":5.3,"y":11.1},{"p":3,"x":6.1,"y":11.25},{"p":3,"x":6.9,"y":11.1},{"p":3,"x":7.7,"y":11.2},{"p":3,"x":8.5,"y":11.15},
{"p":3,"x":3.1,"y":11.8},{"p":3,"x":3.9,"y":11.9},{"p":3,"x":4.7,"y":11.75},{"p":3,"x":5.5,"y":11.85},{"p":3,"x":6.3,"y":11.8},{"p":3,"x":7.1,"y":11.9},{"p":3,"x":7.9,"y":11.8},{"p":3,"x":8.6,"y":11.9},
{"p":3,"x":3.6,"y":12.5},{"p":3,"x":4.4,"y":12.4},{"p":3,"x":5.2,"y":12.5},{"p":3,"x":6.0,"y":12.4},{"p":3,"x":6.8,"y":12.5},{"p":3,"x":7.6,"y":12.4},{"p":3,"x":8.3,"y":12.5},
{"p":3,"x":4.2,"y":13.1},{"p":3,"x":5.0,"y":13.2},{"p":3,"x":5.8,"y":13.05},{"p":3,"x":6.6,"y":13.15},{"p":3,"x":7.4,"y":13.1},{"p":3,"x":8.0,"y":13.2},
{"p":3,"x":4.8,"y":13.8},{"p":3,"x":5.6,"y":13.7},{"p":3,"x":6.4,"y":13.8},{"p":3,"x":7.2,"y":13.75},{"p":3,"x":7.9,"y":13.7},
{"p":3,"x":5.5,"y":14.4},{"p":3,"x":6.4,"y":14.5},{"p":3,"x":7.3,"y":14.4},
{"p":3,"x":3.4,"y":-0.2},{"p":3,"x":4.2,"y":-0.15},{"p":3,"x":5.0,"y":-0.2},{"p":3,"x":5.8,"y":-0.25},{"p":3,"x":6.6,"y":-0.2},{"p":3,"x":7.4,"y":-0.15},{"p":3,"x":8.2,"y":-0.2},{"p":3,"x":9.0,"y":-0.25},
{"p":3,"x":3.0,"y":0.45},{"p":3,"x":3.8,"y":0.5},{"p":3,"x":4.6,"y":0.4},{"p":3,"x":5.4,"y":0.45},{"p":3,"x":6.2,"y":0.5},{"p":3,"x":7.0,"y":0.4},{"p":3,"x":7.8,"y":0.45},{"p":3,"x":8.6,"y":0.5},{"p":3,"x":9.4,"y":0.4},
{"p":3,"x":3.2,"y":1.1},{"p":3,"x":4.0,"y":1.05},{"p":3,"x":4.8,"y":1.1},{"p":3,"x":5.6,"y":1.15},{"p":3,"x":6.4,"y":1.1},{"p":3,"x":7.2,"y":1.05},{"p":3,"x":8.0,"y":1.1},{"p":3,"x":8.8,"y":1.15},
{"p":3,"x":3.0,"y":1.75},{"p":3,"x":3.8,"y":1.7},{"p":3,"x":4.6,"y":1.75},{"p":3,"x":5.4,"y":1.8},{"p":3,"x":6.2,"y":1.75},{"p":3,"x":7.0,"y":1.7},{"p":3,"x":7.8,"y":1.75},{"p":3,"x":8.6,"y":1.8},{"p":3,"x":9.4,"y":1.75},
{"p":3,"x":3.3,"y":2.4},{"p":3,"x":4.1,"y":2.45},{"p":3,"x":4.9,"y":2.4},{"p":3,"x":5.7,"y":2.35},{"p":3,"x":6.5,"y":2.4},{"p":3,"x":7.3,"y":2.45},{"p":3,"x":8.1,"y":2.4},{"p":3,"x":8.9,"y":2.35},
{"p":3,"x":3.2,"y":3.05},{"p":3,"x":4.0,"y":3.0},{"p":3,"x":4.8,"y":3.05},{"p":3,"x":5.6,"y":3.1},{"p":3,"x":6.4,"y":3.05},{"p":3,"x":7.2,"y":3.0},{"p":3,"x":8.0,"y":3.05},{"p":3,"x":8.8,"y":3.1},
{"p":3,"x":3.4,"y":3.7},{"p":3,"x":4.2,"y":3.75},{"p":3,"x":5.0,"y":3.7},{"p":3,"x":5.8,"y":3.65},{"p":3,"x":6.6,"y":3.7},{"p":3,"x":7.4,"y":3.75},{"p":3,"x":8.2,"y":3.7},
{"p":3,"x":3.6,"y":4.35},{"p":3,"x":4.4,"y":4.3},{"p":3,"x":5.2,"y":4.35},{"p":3,"x":6.0,"y":4.4},{"p":3,"x":6.8,"y":4.35},{"p":3,"x":7.6,"y":4.3},{"p":3,"x":8.4,"y":4.35},
{"p":3,"x":3.8,"y":5.0},{"p":3,"x":4.6,"y":5.05},{"p":3,"x":5.4,"y":5.0},{"p":3,"x":6.2,"y":4.95},{"p":3,"x":7.0,"y":5.0},{"p":3,"x":7.8,"y":5.05},
{"p":3,"x":3.9,"y":5.65},{"p":3,"x":4.7,"y":5.6},{"p":3,"x":5.5,"y":5.65},{"p":3,"x":6.3,"y":5.7},{"p":3,"x":7.1,"y":5.65},{"p":3,"x":7.9,"y":5.6},
{"p":3,"x":4.1,"y":6.3},{"p":3,"x":4.9,"y":6.35},{"p":3,"x":5.7,"y":6.3},{"p":3,"x":6.5,"y":6.25},{"p":3,"x":7.3,"y":6.3},
{"p":3,"x":4.3,"y":6.95},{"p":3,"x":5.1,"y":6.9},{"p":3,"x":5.9,"y":6.95},{"p":3,"x":6.7,"y":7.0},
{"p":3,"x":4.5,"y":7.6},{"p":3,"x":5.3,"y":7.65},{"p":3,"x":6.1,"y":7.6},{"p":3,"x":6.9,"y":7.55},
{"p":3,"x":4.7,"y":8.25},{"p":3,"x":5.5,"y":8.2},{"p":3,"x":6.3,"y":8.25},
{"p":3,"x":4.9,"y":8.9},{"p":3,"x":5.7,"y":8.95},
{"p":3,"x":3.0,"y":18.2},{"p":3,"x":3.5,"y":16.3},{"p":3,"x":7.4,"y":15.7},{"p":3,"x":7.7,"y":15.7},{"p":3,"x":4.7,"y":14.9},{"p":3,"x":4.9,"y":14.6},{"p":3,"x":5.8,"y":14.9},{"p":3,"x":6.6,"y":15.0},{"p":3,"x":3.9,"y":14.2},{"p":3,"x":9.6,"y":11.6},{"p":3,"x":13.0,"y":7.9},{"p":3,"x":15.5,"y":6.4},{"p":3,"x":15.4,"y":6.1},{"p":3,"x":11.0,"y":9.0},{"p":3,"x":9.5,"y":10.7},{"p":3,"x":12.25,"y":3.5},{"p":3,"x":13.75,"y":-1.4},{"p":3,"x":13.8,"y":-5.3},{"p":3,"x":10.9,"y":-5.3},{"p":3,"x":11.3,"y":-3.0},{"p":3,"x":6.8,"y":-3.0},{"p":3,"x":6.8,"y":-2.8},{"p":3,"x":5.7,"y":-2.7},{"p":3,"x":5.0,"y":-3.0},{"p":3,"x":1.9,"y":-3.2},{"p":3,"x":-1.6,"y":-3.6},{"p":3,"x":-1.25,"y":-1.7},{"p":3,"x":-0.1,"y":-1.5},{"p":3,"x":0.0,"y":-1.3},{"p":3,"x":-1.4,"y":2.2},{"p":3,"x":-0.9,"y":0.9},{"p":3,"x":-0.5,"y":1.4},{"p":3,"x":0.0,"y":4.75},{"p":3,"x":0.3,"y":4.9},{"p":3,"x":1.5,"y":-1.3},{"p":3,"x":1.2,"y":8.0},{"p":3,"x":1.6,"y":8.5},{"p":3,"x":2.4,"y":10.0},{"p":3,"x":2.8,"y":11.4},{"p":3,"x":11.9,"y":-1.7},{"p":3,"x":11.6,"y":-2.3},{"p":3,"x":12.2,"y":0.8},{"p":3,"x":12.4,"y":2.4},{"p":3,"x":11.0,"y":6.2},{"p":3,"x":11.4,"y":5.5},{"p":3,"x":10.6,"y":8.1},{"p":3,"x":4.2,"y":-1.9},{"p":3,"x":3.0,"y":-2.0},{"p":3,"x":8.0,"y":-2.2},{"p":3,"x":9.4,"y":-1.9},{"p":3,"x":10.6,"y":-2.3},{"p":3,"x":0.4,"y":-0.8},{"p":3,"x":1.0,"y":-2.0},{"p":3,"x":12.7,"y":2.1},
{"p":4,"x":1.2,"y":-1.1},{"p":4,"x":2.0,"y":-1.3},{"p":4,"x":2.8,"y":-1.0},{"p":4,"x":3.6,"y":-1.4},{"p":4,"x":4.4,"y":-1.1},{"p":4,"x":5.2,"y":-1.3},{"p":4,"x":6.0,"y":-1.0},{"p":4,"x":6.8,"y":-1.3},{"p":4,"x":7.6,"y":-1.1},{"p":4,"x":8.4,"y":-1.4},{"p":4,"x":9.2,"y":-1.0},{"p":4,"x":10.0,"y":-1.25},{"p":4,"x":10.6,"y":-1.1},
{"p":4,"x":0.9,"y":-0.5},{"p":4,"x":1.7,"y":-0.7},{"p":4,"x":2.5,"y":-0.45},{"p":4,"x":3.3,"y":-0.6},{"p":4,"x":4.1,"y":-0.5},{"p":4,"x":4.9,"y":-0.7},{"p":4,"x":5.7,"y":-0.45},{"p":4,"x":6.5,"y":-0.6},{"p":4,"x":7.3,"y":-0.5},{"p":4,"x":8.1,"y":-0.65},{"p":4,"x":8.9,"y":-0.5},{"p":4,"x":9.7,"y":-0.6},{"p":4,"x":10.5,"y":-0.45},{"p":4,"x":11.2,"y":-0.6},
{"p":4,"x":0.6,"y":0.15},{"p":4,"x":1.4,"y":0.0},{"p":4,"x":2.2,"y":0.2},{"p":4,"x":3.0,"y":0.05},{"p":4,"x":3.8,"y":0.15},{"p":4,"x":4.6,"y":0.0},{"p":4,"x":5.4,"y":0.2},{"p":4,"x":6.2,"y":0.05},{"p":4,"x":7.0,"y":0.1},{"p":4,"x":7.8,"y":0.0},{"p":4,"x":8.6,"y":0.2},{"p":4,"x":9.4,"y":0.05},{"p":4,"x":10.2,"y":0.15},{"p":4,"x":11.0,"y":0.0},{"p":4,"x":11.6,"y":0.1},
{"p":4,"x":0.7,"y":0.8},{"p":4,"x":1.5,"y":0.7},{"p":4,"x":2.3,"y":0.85},{"p":4,"x":3.1,"y":0.7},{"p":4,"x":3.9,"y":0.8},{"p":4,"x":4.7,"y":0.65},{"p":4,"x":5.5,"y":0.85},{"p":4,"x":6.3,"y":0.7},{"p":4,"x":7.1,"y":0.8},{"p":4,"x":7.9,"y":0.7},{"p":4,"x":8.7,"y":0.85},{"p":4,"x":9.5,"y":0.7},{"p":4,"x":10.3,"y":0.8},{"p":4,"x":11.1,"y":0.7},{"p":4,"x":11.7,"y":0.85},
{"p":4,"x":0.6,"y":1.4},{"p":4,"x":1.4,"y":1.5},{"p":4,"x":2.2,"y":1.35},{"p":4,"x":3.0,"y":1.45},{"p":4,"x":3.8,"y":1.3},{"p":4,"x":4.6,"y":1.5},{"p":4,"x":5.4,"y":1.35},{"p":4,"x":6.2,"y":1.45},{"p":4,"x":7.0,"y":1.3},{"p":4,"x":7.8,"y":1.5},{"p":4,"x":8.6,"y":1.35},{"p":4,"x":9.4,"y":1.45},{"p":4,"x":10.2,"y":1.3},{"p":4,"x":11.0,"y":1.5},{"p":4,"x":11.7,"y":1.35},
{"p":4,"x":0.5,"y":2.1},{"p":4,"x":1.3,"y":2.0},{"p":4,"x":2.1,"y":2.15},{"p":4,"x":2.9,"y":1.95},{"p":4,"x":3.7,"y":2.1},{"p":4,"x":4.5,"y":2.0},{"p":4,"x":5.3,"y":2.15},{"p":4,"x":6.1,"y":1.95},{"p":4,"x":6.9,"y":2.1},{"p":4,"x":7.7,"y":2.0},{"p":4,"x":8.5,"y":2.15},{"p":4,"x":9.3,"y":1.95},{"p":4,"x":10.1,"y":2.1},{"p":4,"x":10.9,"y":2.0},{"p":4,"x":11.6,"y":2.1},
{"p":4,"x":0.6,"y":2.7},{"p":4,"x":1.4,"y":2.8},{"p":4,"x":2.2,"y":2.65},{"p":4,"x":3.0,"y":2.75},{"p":4,"x":3.8,"y":2.7},{"p":4,"x":4.6,"y":2.8},{"p":4,"x":5.4,"y":2.65},{"p":4,"x":6.2,"y":2.75},{"p":4,"x":7.0,"y":2.7},{"p":4,"x":7.8,"y":2.8},{"p":4,"x":8.6,"y":2.65},{"p":4,"x":9.4,"y":2.75},{"p":4,"x":10.2,"y":2.7},{"p":4,"x":11.0,"y":2.8},{"p":4,"x":11.6,"y":2.7},
{"p":4,"x":0.7,"y":3.3},{"p":4,"x":1.5,"y":3.4},{"p":4,"x":2.3,"y":3.3},{"p":4,"x":3.1,"y":3.45},{"p":4,"x":3.9,"y":3.3},{"p":4,"x":4.7,"y":3.4},{"p":4,"x":5.5,"y":3.3},{"p":4,"x":6.3,"y":3.45},{"p":4,"x":7.1,"y":3.35},{"p":4,"x":7.9,"y":3.4},{"p":4,"x":8.7,"y":3.3},{"p":4,"x":9.5,"y":3.4},{"p":4,"x":10.3,"y":3.3},{"p":4,"x":11.1,"y":3.45},
{"p":4,"x":0.8,"y":4.0},{"p":4,"x":1.6,"y":4.1},{"p":4,"x":2.4,"y":3.95},{"p":4,"x":3.2,"y":4.05},{"p":4,"x":4.0,"y":4.0},{"p":4,"x":4.8,"y":4.1},{"p":4,"x":5.6,"y":3.95},{"p":4,"x":6.4,"y":4.05},{"p":4,"x":7.2,"y":4.0},{"p":4,"x":8.0,"y":4.1},{"p":4,"x":8.8,"y":3.95},{"p":4,"x":9.6,"y":4.05},{"p":4,"x":10.4,"y":4.0},{"p":4,"x":11.1,"y":4.1},
{"p":4,"x":0.9,"y":4.7},{"p":4,"x":1.7,"y":4.6},{"p":4,"x":2.5,"y":4.7},{"p":4,"x":3.3,"y":4.6},{"p":4,"x":4.1,"y":4.75},{"p":4,"x":4.9,"y":4.6},{"p":4,"x":5.7,"y":4.7},{"p":4,"x":6.5,"y":4.6},{"p":4,"x":7.3,"y":4.7},{"p":4,"x":8.1,"y":4.65},{"p":4,"x":8.9,"y":4.6},{"p":4,"x":9.7,"y":4.7},{"p":4,"x":10.5,"y":4.6},{"p":4,"x":11.0,"y":4.7},
{"p":4,"x":1.0,"y":5.3},{"p":4,"x":1.8,"y":5.4},{"p":4,"x":2.6,"y":5.25},{"p":4,"x":3.4,"y":5.35},{"p":4,"x":4.2,"y":5.3},{"p":4,"x":5.0,"y":5.4},{"p":4,"x":5.8,"y":5.25},{"p":4,"x":6.6,"y":5.35},{"p":4,"x":7.4,"y":5.3},{"p":4,"x":8.2,"y":5.4},{"p":4,"x":9.0,"y":5.25},{"p":4,"x":9.8,"y":5.35},{"p":4,"x":10.6,"y":5.3},
{"p":4,"x":1.1,"y":6.0},{"p":4,"x":1.9,"y":5.9},{"p":4,"x":2.7,"y":6.0},{"p":4,"x":3.5,"y":5.9},{"p":4,"x":4.3,"y":6.05},{"p":4,"x":5.1,"y":5.9},{"p":4,"x":5.9,"y":6.0},{"p":4,"x":6.7,"y":5.95},{"p":4,"x":7.5,"y":5.9},{"p":4,"x":8.3,"y":6.05},{"p":4,"x":9.1,"y":5.9},{"p":4,"x":9.9,"y":6.0},{"p":4,"x":10.6,"y":5.9},
{"p":4,"x":1.4,"y":6.6},{"p":4,"x":2.2,"y":6.7},{"p":4,"x":3.0,"y":6.55},{"p":4,"x":3.8,"y":6.65},{"p":4,"x":4.6,"y":6.6},{"p":4,"x":5.4,"y":6.7},{"p":4,"x":6.2,"y":6.55},{"p":4,"x":7.0,"y":6.65},{"p":4,"x":7.8,"y":6.6},{"p":4,"x":8.6,"y":6.7},{"p":4,"x":9.4,"y":6.55},{"p":4,"x":10.2,"y":6.65},
{"p":4,"x":1.6,"y":7.3},{"p":4,"x":2.4,"y":7.2},{"p":4,"x":3.2,"y":7.3},{"p":4,"x":4.0,"y":7.2},{"p":4,"x":4.8,"y":7.35},{"p":4,"x":5.6,"y":7.2},{"p":4,"x":6.4,"y":7.3},{"p":4,"x":7.2,"y":7.25},{"p":4,"x":8.0,"y":7.2},{"p":4,"x":8.8,"y":7.3},{"p":4,"x":9.6,"y":7.2},{"p":4,"x":10.1,"y":7.3},
{"p":4,"x":1.9,"y":7.9},{"p":4,"x":2.7,"y":8.0},{"p":4,"x":3.5,"y":7.85},{"p":4,"x":4.3,"y":7.95},{"p":4,"x":5.1,"y":7.9},{"p":4,"x":5.9,"y":8.0},{"p":4,"x":6.7,"y":7.85},{"p":4,"x":7.5,"y":7.95},{"p":4,"x":8.3,"y":7.9},{"p":4,"x":9.1,"y":8.0},{"p":4,"x":9.8,"y":7.85},
{"p":4,"x":2.2,"y":8.6},{"p":4,"x":3.0,"y":8.5},{"p":4,"x":3.8,"y":8.6},{"p":4,"x":4.6,"y":8.5},{"p":4,"x":5.4,"y":8.65},{"p":4,"x":6.2,"y":8.5},{"p":4,"x":7.0,"y":8.6},{"p":4,"x":7.8,"y":8.55},{"p":4,"x":8.6,"y":8.5},{"p":4,"x":9.4,"y":8.6},
{"p":4,"x":2.5,"y":9.2},{"p":4,"x":3.3,"y":9.3},{"p":4,"x":4.1,"y":9.15},{"p":4,"x":4.9,"y":9.25},{"p":4,"x":5.7,"y":9.2},{"p":4,"x":6.5,"y":9.3},{"p":4,"x":7.3,"y":9.15},{"p":4,"x":8.1,"y":9.25},{"p":4,"x":8.9,"y":9.2},{"p":4,"x":9.5,"y":9.3},
{"p":4,"x":2.8,"y":9.9},{"p":4,"x":3.6,"y":9.8},{"p":4,"x":4.4,"y":9.9},{"p":4,"x":5.2,"y":9.8},{"p":4,"x":6.0,"y":9.95},{"p":4,"x":6.8,"y":9.8},{"p":4,"x":7.6,"y":9.9},{"p":4,"x":8.4,"y":9.85},{"p":4,"x":9.0,"y":9.8},
{"p":4,"x":3.1,"y":10.5},{"p":4,"x":3.9,"y":10.6},{"p":4,"x":4.7,"y":10.45},{"p":4,"x":5.5,"y":10.55},{"p":4,"x":6.3,"y":10.5},{"p":4,"x":7.1,"y":10.6},{"p":4,"x":7.9,"y":10.45},{"p":4,"x":8.6,"y":10.55},
{"p":4,"x":3.3,"y":11.2},{"p":4,"x":4.1,"y":11.1},{"p":4,"x":4.9,"y":11.2},{"p":4,"x":5.7,"y":11.1},{"p":4,"x":6.5,"y":11.25},{"p":4,"x":7.3,"y":11.1},{"p":4,"x":8.1,"y":11.2},
{"p":4,"x":3.6,"y":11.8},{"p":4,"x":4.4,"y":11.9},{"p":4,"x":5.2,"y":11.75},{"p":4,"x":6.0,"y":11.85},{"p":4,"x":6.8,"y":11.8},{"p":4,"x":7.6,"y":11.9},
{"p":4,"x":4.0,"y":12.5},{"p":4,"x":4.8,"y":12.4},{"p":4,"x":5.6,"y":12.5},{"p":4,"x":6.4,"y":12.4},{"p":4,"x":7.2,"y":12.5},{"p":4,"x":7.8,"y":12.4},
{"p":4,"x":4.2,"y":13.1},{"p":4,"x":5.0,"y":13.2},{"p":4,"x":5.8,"y":13.05},{"p":4,"x":6.6,"y":13.15},{"p":4,"x":7.3,"y":13.1},
{"p":4,"x":4.5,"y":13.8},{"p":4,"x":5.3,"y":13.7},{"p":4,"x":6.1,"y":13.8},{"p":4,"x":6.8,"y":13.75},
{"p":4,"x":3.4,"y":-0.2},{"p":4,"x":4.2,"y":-0.15},{"p":4,"x":5.0,"y":-0.2},{"p":4,"x":5.8,"y":-0.25},{"p":4,"x":6.6,"y":-0.2},{"p":4,"x":7.4,"y":-0.15},{"p":4,"x":8.2,"y":-0.2},{"p":4,"x":9.0,"y":-0.25},
{"p":4,"x":3.0,"y":0.45},{"p":4,"x":3.8,"y":0.5},{"p":4,"x":4.6,"y":0.4},{"p":4,"x":5.4,"y":0.45},{"p":4,"x":6.2,"y":0.5},{"p":4,"x":7.0,"y":0.4},{"p":4,"x":7.8,"y":0.45},{"p":4,"x":8.6,"y":0.5},{"p":4,"x":9.4,"y":0.4},
{"p":4,"x":3.2,"y":1.1},{"p":4,"x":4.0,"y":1.05},{"p":4,"x":4.8,"y":1.1},{"p":4,"x":5.6,"y":1.15},{"p":4,"x":6.4,"y":1.1},{"p":4,"x":7.2,"y":1.05},{"p":4,"x":8.0,"y":1.1},{"p":4,"x":8.8,"y":1.15},
{"p":4,"x":3.4,"y":1.75},{"p":4,"x":4.2,"y":1.7},{"p":4,"x":5.0,"y":1.75},{"p":4,"x":5.8,"y":1.8},{"p":4,"x":6.6,"y":1.75},{"p":4,"x":7.4,"y":1.7},{"p":4,"x":8.2,"y":1.75},{"p":4,"x":9.0,"y":1.8},
{"p":4,"x":3.3,"y":2.4},{"p":4,"x":4.1,"y":2.45},{"p":4,"x":4.9,"y":2.4},{"p":4,"x":5.7,"y":2.35},{"p":4,"x":6.5,"y":2.4},{"p":4,"x":7.3,"y":2.45},{"p":4,"x":8.1,"y":2.4},{"p":4,"x":8.9,"y":2.35},
{"p":4,"x":3.5,"y":3.05},{"p":4,"x":4.3,"y":3.0},{"p":4,"x":5.1,"y":3.05},{"p":4,"x":5.9,"y":3.1},{"p":4,"x":6.7,"y":3.05},{"p":4,"x":7.5,"y":3.0},{"p":4,"x":8.3,"y":3.05},
{"p":4,"x":3.6,"y":3.7},{"p":4,"x":4.4,"y":3.75},{"p":4,"x":5.2,"y":3.7},{"p":4,"x":6.0,"y":3.65},{"p":4,"x":6.8,"y":3.7},{"p":4,"x":7.6,"y":3.75},{"p":4,"x":8.4,"y":3.7},
{"p":4,"x":3.7,"y":4.35},{"p":4,"x":4.5,"y":4.3},{"p":4,"x":5.3,"y":4.35},{"p":4,"x":6.1,"y":4.4},{"p":4,"x":6.9,"y":4.35},{"p":4,"x":7.7,"y":4.3},
{"p":4,"x":3.8,"y":5.0},{"p":4,"x":4.6,"y":5.05},{"p":4,"x":5.4,"y":5.0},{"p":4,"x":6.2,"y":4.95},{"p":4,"x":7.0,"y":5.0},{"p":4,"x":7.8,"y":5.05},
{"p":4,"x":4.0,"y":5.65},{"p":4,"x":4.8,"y":5.6},{"p":4,"x":5.6,"y":5.65},{"p":4,"x":6.4,"y":5.7},{"p":4,"x":7.2,"y":5.65},
{"p":4,"x":4.2,"y":6.3},{"p":4,"x":5.0,"y":6.35},{"p":4,"x":5.8,"y":6.3},{"p":4,"x":6.6,"y":6.25},{"p":4,"x":7.4,"y":6.3},
{"p":4,"x":4.4,"y":6.95},{"p":4,"x":5.2,"y":6.9},{"p":4,"x":6.0,"y":6.95},{"p":4,"x":6.8,"y":7.0},
{"p":4,"x":4.6,"y":7.6},{"p":4,"x":5.4,"y":7.65},{"p":4,"x":6.2,"y":7.6},{"p":4,"x":7.0,"y":7.55},
{"p":4,"x":4.8,"y":8.25},{"p":4,"x":5.6,"y":8.2},{"p":4,"x":6.4,"y":8.25},
{"p":4,"x":5.0,"y":8.9},{"p":4,"x":5.8,"y":8.95},{"p":4,"x":6.6,"y":8.9},
{"p":4,"x":5.2,"y":9.55},{"p":4,"x":6.0,"y":9.5},
{"p":4,"x":7.3,"y":17.6},{"p":4,"x":8.6,"y":17.1},{"p":4,"x":4.9,"y":15.9},{"p":4,"x":5.0,"y":15.1},{"p":4,"x":5.2,"y":14.9},{"p":4,"x":3.1,"y":13.5},{"p":4,"x":3.4,"y":12.9},{"p":4,"x":3.25,"y":12.0},{"p":4,"x":7.6,"y":14.0},{"p":4,"x":8.9,"y":11.5},{"p":4,"x":14.3,"y":8.2},{"p":4,"x":9.9,"y":9.3},{"p":4,"x":11.9,"y":6.0},{"p":4,"x":12.4,"y":4.9},{"p":4,"x":12.5,"y":3.2},{"p":4,"x":-1.0,"y":3.9},{"p":4,"x":-1.4,"y":1.6},{"p":4,"x":-0.6,"y":0.6},{"p":4,"x":-0.2,"y":-0.7},{"p":4,"x":0.2,"y":-1.1},{"p":4,"x":-0.1,"y":-1.7},{"p":4,"x":0.6,"y":-2.3},{"p":4,"x":2.1,"y":-3.6},{"p":4,"x":2.1,"y":-4.5},{"p":4,"x":4.7,"y":-4.1},{"p":4,"x":3.75,"y":-2.5},{"p":4,"x":3.9,"y":-3.0},{"p":4,"x":6.45,"y":-3.5},{"p":4,"x":6.95,"y":-2.6},{"p":4,"x":8.5,"y":-1.9},{"p":4,"x":9.9,"y":-2.1},{"p":4,"x":10.5,"y":-2.0},{"p":4,"x":11.0,"y":-2.8},{"p":4,"x":11.7,"y":-3.2},{"p":4,"x":12.7,"y":-1.7},{"p":4,"x":13.0,"y":-0.45},{"p":4,"x":12.1,"y":1.2},{"p":4,"x":11.9,"y":0.3},{"p":4,"x":1.45,"y":9.75},{"p":4,"x":1.8,"y":9.5},{"p":4,"x":2.7,"y":10.0},{"p":4,"x":1.0,"y":6.6},{"p":4,"x":1.25,"y":7.5},{"p":4,"x":0.6,"y":5.5},{"p":4,"x":1.2,"y":-2.0},{"p":4,"x":2.9,"y":-2.2},{"p":4,"x":5.3,"y":-2.0},{"p":4,"x":7.6,"y":-2.1},{"p":4,"x":9.2,"y":-1.8},{"p":4,"x":12.3,"y":2.3},{"p":4,"x":0.0,"y":2.5},{"p":4,"x":0.1,"y":4.4},{"p":4,"x":10.6,"y":7.3},{"p":4,"x":11.5,"y":5.0}
]},
"columns":4,"spacing":{"row":0,"column":6},"bounds":"flush",
"resolve":{"scale":{"color":"shared","x":"independent","y":"independent"},"legend":{"color":"shared"}},
"concat":[
{"data":{"name":"strips"},"transform":[{"filter":"datum.p==1"}],"width":150,"height":25,"view":{"stroke":"#1a1a1a","strokeWidth":1.2,"fill":"white"},"mark":{"type":"text","fontSize":14,"font":"Liberation Sans","color":"#1a1a1a","align":"center","baseline":"middle"},"encoding":{"text":{"field":"p"}}},
{"data":{"name":"strips"},"transform":[{"filter":"datum.p==2"}],"width":150,"height":25,"view":{"stroke":"#1a1a1a","strokeWidth":1.2,"fill":"white"},"mark":{"type":"text","fontSize":14,"font":"Liberation Sans","color":"#1a1a1a","align":"center","baseline":"middle"},"encoding":{"text":{"field":"p"}}},
{"data":{"name":"strips"},"transform":[{"filter":"datum.p==3"}],"width":150,"height":25,"view":{"stroke":"#1a1a1a","strokeWidth":1.2,"fill":"white"},"mark":{"type":"text","fontSize":14,"font":"Liberation Sans","color":"#1a1a1a","align":"center","baseline":"middle"},"encoding":{"text":{"field":"p"}}},
{"data":{"name":"strips"},"transform":[{"filter":"datum.p==4"}],"width":150,"height":25,"view":{"stroke":"#1a1a1a","strokeWidth":1.2,"fill":"white"},"mark":{"type":"text","fontSize":14,"font":"Liberation Sans","color":"#1a1a1a","align":"center","baseline":"middle"},"encoding":{"text":{"field":"p"}}},
{"data":{"name":"pts"},"transform":[{"filter":"datum.p==1"}],"width":150,"height":216,"mark":{"type":"circle","size":31,"opacity":1},"encoding":{"x":{"field":"x","type":"quantitative","scale":{"domain":[-2.35,16.4],"nice":false,"zero":false},"axis":{"values":[0,5,10,15],"title":null}},"y":{"field":"y","type":"quantitative","scale":{"domain":[-6.6,20.4],"nice":false,"zero":false},"axis":{"values":[-5,0,5,10,15,20],"title":"y","titlePadding":6}},"color":{"datum":"1","type":"nominal","title":"updated cluster label","scale":{"range":["#F8766D"]},"legend":{"orient":"none","legendX":212,"legendY":289}}}},
{"data":{"name":"pts"},"transform":[{"filter":"datum.p==2"}],"width":150,"height":216,"mark":{"type":"circle","size":31,"opacity":1},"encoding":{"x":{"field":"x","type":"quantitative","scale":{"domain":[-2.35,16.4],"nice":false,"zero":false},"axis":{"values":[0,5,10,15],"title":"x","titleX":152,"titlePadding":6}},"y":{"field":"y","type":"quantitative","scale":{"domain":[-6.6,20.4],"nice":false,"zero":false},"axis":null},"color":{"datum":"1","type":"nominal","title":"updated cluster label","scale":{"range":["#F8766D"]},"legend":{"orient":"none","legendX":212,"legendY":289}}}},
{"data":{"name":"pts"},"transform":[{"filter":"datum.p==3"}],"width":150,"height":216,"mark":{"type":"circle","size":31,"opacity":1},"encoding":{"x":{"field":"x","type":"quantitative","scale":{"domain":[-2.35,16.4],"nice":false,"zero":false},"axis":{"values":[0,5,10,15],"title":null}},"y":{"field":"y","type":"quantitative","scale":{"domain":[-6.6,20.4],"nice":false,"zero":false},"axis":null},"color":{"datum":"1","type":"nominal","title":"updated cluster label","scale":{"range":["#F8766D"]},"legend":{"orient":"none","legendX":212,"legendY":289}}}},
{"data":{"name":"pts"},"transform":[{"filter":"datum.p==4"}],"width":150,"height":216,"mark":{"type":"circle","size":31,"opacity":1},"encoding":{"x":{"field":"x","type":"quantitative","scale":{"domain":[-2.35,16.4],"nice":false,"zero":false},"axis":{"values":[0,5,10,15],"title":null}},"y":{"field":"y","type":"quantitative","scale":{"domain":[-6.6,20.4],"nice":false,"zero":false},"axis":null},"color":{"datum":"1","type":"nominal","title":"updated cluster label","scale":{"range":["#F8766D"]},"legend":{"orient":"none","legendX":212,"legendY":289}}}}
],
"config":{"view":{"stroke":null},"font":"Liberation Sans",
"axis":{"grid":false,"domainColor":"black","domainWidth":1.1,"tickColor":"#333333","tickSize":3,"tickWidth":1,"labelColor":"#4d4d4d","labelFontSize":9.5,"labelFont":"Liberation Sans","labelPadding":2,"titleFont":"Liberation Sans","titleFontSize":12,"titleFontWeight":"normal","titleColor":"black"},
"legend":{"direction":"horizontal","titleOrient":"left","titleFontSize":16,"titleFontWeight":"normal","titleColor":"black","titleFont":"Liberation Sans","labelFont":"Liberation Sans","labelFontSize":16,"labelColor":"black","symbolSize":90,"symbolType":"circle","symbolStrokeWidth":0,"titlePadding":12,"labelOffset":10}}
}
